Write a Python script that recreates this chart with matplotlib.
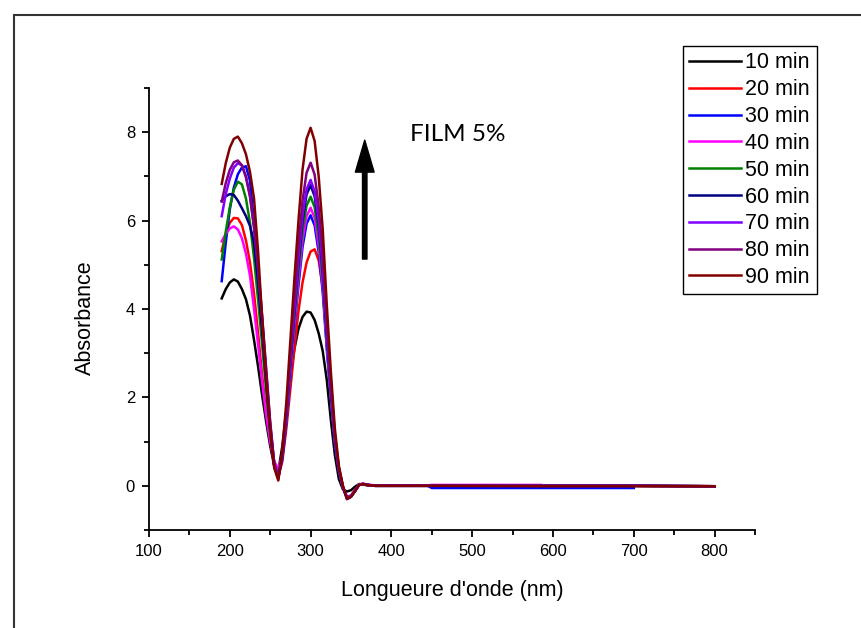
import numpy as np
import matplotlib
matplotlib.use("Agg")
import matplotlib.pyplot as plt
from matplotlib.patches import Rectangle

plt.rcParams['font.family'] = ['Liberation Sans', 'DejaVu Sans']

nan = np.nan

# wavelength grid (nm), shared by all spectra
wavelength = [190, 195, 200, 205, 210, 215, 220, 225, 230, 235, 240, 245, 250, 255, 260,
              265, 270, 275, 280, 285, 290, 295, 300, 305, 310, 315, 320, 325, 330, 335,
              340, 345, 350, 355, 360, 365, 370, 380, 400, 445, 450, 585, 700, 800]

abs_10 = [4.24, 4.45, 4.60, 4.67, 4.62, 4.45, 4.22, 3.85, 3.30, 2.70, 2.05, 1.45, 0.90, 0.45, 0.32,
          0.90, 1.70, 2.50, 3.10, 3.55, 3.82, 3.94, 3.92, 3.75, 3.45, 3.05, 2.40, 1.50, 0.70, 0.15,
          -0.08, -0.13, -0.10, -0.02, 0.04, 0.03, 0.01, 0.00, 0.00, 0.00, 0.00, 0.00, 0.00, -0.01]
abs_20 = [5.31, 5.70, 5.95, 6.06, 6.05, 5.90, 5.55, 5.05, 4.35, 3.45, 2.50, 1.65, 1.05, 0.45, 0.20,
          0.55, 1.30, 2.20, 3.10, 3.95, 4.60, 5.05, 5.30, 5.35, 5.10, 4.50, 3.30, 2.00, 1.00, 0.35,
          -0.05, -0.26, -0.22, -0.10, 0.03, 0.04, 0.02, 0.00, 0.00, 0.00, 0.00, 0.00, 0.00, -0.01]
abs_30 = [4.63, 5.50, 6.25, 6.75, 7.05, 7.20, 7.23, 6.90, 5.95, 4.80, 3.70, 2.50, 1.35, 0.50, 0.20,
          0.61, 1.44, 2.49, 3.55, 4.53, 5.40, 5.93, 6.12, 5.89, 5.29, 4.38, 3.10, 1.96, 0.98, 0.34,
          -0.04, -0.30, -0.25, -0.12, 0.02, 0.04, 0.02, 0.00, 0.00, 0.00, -0.05, -0.05, -0.05, nan]
abs_40 = [5.53, 5.70, 5.82, 5.87, 5.80, 5.60, 5.25, 4.75, 4.00, 3.20, 2.35, 1.60, 1.00, 0.55, 0.38,
          0.70, 1.50, 2.56, 3.65, 4.66, 5.55, 6.10, 6.29, 6.06, 5.43, 4.50, 3.18, 2.02, 1.01, 0.35,
          -0.03, -0.25, -0.22, -0.10, 0.03, 0.05, 0.03, 0.01, 0.01, 0.01, 0.02, 0.02, nan, nan]
abs_50 = [5.12, 5.75, 6.30, 6.70, 6.88, 6.82, 6.50, 5.95, 5.15, 4.20, 3.20, 2.15, 1.20, 0.50, 0.22,
          0.65, 1.54, 2.66, 3.79, 4.85, 5.77, 6.34, 6.54, 6.30, 5.65, 4.68, 3.31, 2.10, 1.05, 0.37,
          -0.03, -0.27, -0.23, -0.11, 0.03, 0.04, 0.02, 0.00, 0.00, 0.00, 0.00, 0.00, 0.00, -0.01]
abs_60 = [6.45, 6.55, 6.60, 6.58, 6.45, 6.28, 6.10, 5.88, 5.50, 4.60, 3.50, 2.35, 1.25, 0.45, 0.20,
          0.67, 1.60, 2.77, 3.94, 5.04, 6.00, 6.59, 6.80, 6.55, 5.88, 4.87, 3.44, 2.18, 1.09, 0.38,
          -0.02, -0.28, -0.24, -0.12, 0.02, 0.04, 0.02, 0.00, 0.00, 0.00, 0.00, 0.00, 0.00, -0.01]
abs_70 = [6.10, 6.60, 6.95, 7.20, 7.30, 7.25, 7.00, 6.55, 5.85, 4.90, 3.80, 2.60, 1.40, 0.50, 0.18,
          0.69, 1.63, 2.82, 4.01, 5.13, 6.11, 6.71, 6.92, 6.66, 5.98, 4.95, 3.50, 2.22, 1.11, 0.39,
          -0.02, -0.27, -0.23, -0.11, 0.03, 0.04, 0.02, 0.00, 0.00, 0.00, 0.00, 0.00, 0.00, -0.01]
abs_80 = [6.43, 6.85, 7.15, 7.32, 7.36, 7.25, 6.98, 6.55, 5.85, 4.95, 3.85, 2.65, 1.45, 0.50, 0.15,
          0.72, 1.72, 2.98, 4.24, 5.42, 6.45, 7.08, 7.31, 7.04, 6.32, 5.23, 3.70, 2.35, 1.17, 0.41,
          -0.02, -0.28, -0.24, -0.12, 0.02, 0.04, 0.02, 0.00, 0.00, 0.00, 0.00, 0.00, 0.00, -0.01]
abs_90 = [6.83, 7.30, 7.65, 7.85, 7.90, 7.75, 7.50, 7.10, 6.50, 5.30, 3.80, 2.45, 1.25, 0.40, 0.12,
          0.80, 1.90, 3.30, 4.70, 6.00, 7.15, 7.85, 8.10, 7.80, 7.00, 5.80, 4.10, 2.60, 1.30, 0.45,
          0.00, -0.30, -0.25, -0.12, 0.02, 0.04, 0.02, 0.00, 0.00, 0.00, 0.00, -0.01, -0.01, -0.01]

labels = ['10 min', '20 min', '30 min', '40 min', '50 min', '60 min', '70 min', '80 min', '90 min']
colors = ['#000000', '#ff0000', '#0000ff', '#ff00ff', '#008000', '#000080', '#8000ff', '#800080', '#800000']
spectra = [abs_10, abs_20, abs_30, abs_40, abs_50, abs_60, abs_70, abs_80, abs_90]

fig = plt.figure(figsize=(8.62, 6.28), dpi=100)
ax = fig.add_axes([149/862, 98/628, 606/862, 442/628])

for y, lab, c in zip(spectra, labels, colors):
    ax.plot(wavelength, y, color=c, lw=1.8, label=lab)

ax.set_xlim(100, 850)
ax.set_ylim(-1, 9)
ax.set_xticks(range(100, 801, 100))
ax.set_xticks(range(150, 851, 100), minor=True)
ax.set_yticks([0, 2, 4, 6, 8])
ax.set_yticks([-1, 1, 3, 5, 7, 9], minor=True)
ax.spines['top'].set_visible(False)
ax.spines['right'].set_visible(False)
ax.spines['left'].set_linewidth(1.3)
ax.spines['bottom'].set_linewidth(1.3)
ax.tick_params(which='major', direction='out', length=5, width=1.3, labelsize=12, pad=5)
ax.tick_params(which='minor', direction='out', length=3.5, width=1.3)

ax.set_xlabel("Longueure d'onde (nm)", fontsize=15.5)
ax.set_ylabel('Absorbance', fontsize=15.5)
ax.xaxis.set_label_coords(0.5, -0.113)
ax.yaxis.set_label_coords(-0.0875, 0.48)

# arrow + annotation
ax.annotate('', xy=(367, 7.82), xytext=(367, 5.13),
            arrowprops=dict(facecolor='black', edgecolor='black', width=3.2, headwidth=13.5,
                            headlength=23, shrink=0))
ax.text(423, 7.8, 'FILM 5%', fontsize=17.5, family=['Lato', 'DejaVu Sans'], ha='left', va='baseline')

leg = ax.legend(loc='upper left', bbox_to_anchor=(683/862, 1 - 46/628), bbox_transform=fig.transFigure,
                fancybox=False, edgecolor='black', framealpha=1, fontsize=15.5, handlelength=2.4,
                handletextpad=0.2, labelspacing=0.27, borderpad=0.3, borderaxespad=0)
leg.get_frame().set_linewidth(1.0)

# outer frame of the picture
fig.patches.append(Rectangle((14/862, -0.05), 1.0, 1 - 15/628 + 0.05, transform=fig.transFigure,
                             fill=False, lw=1.5, ec='#333333'))

fig.savefig('out.png', dpi=100)
